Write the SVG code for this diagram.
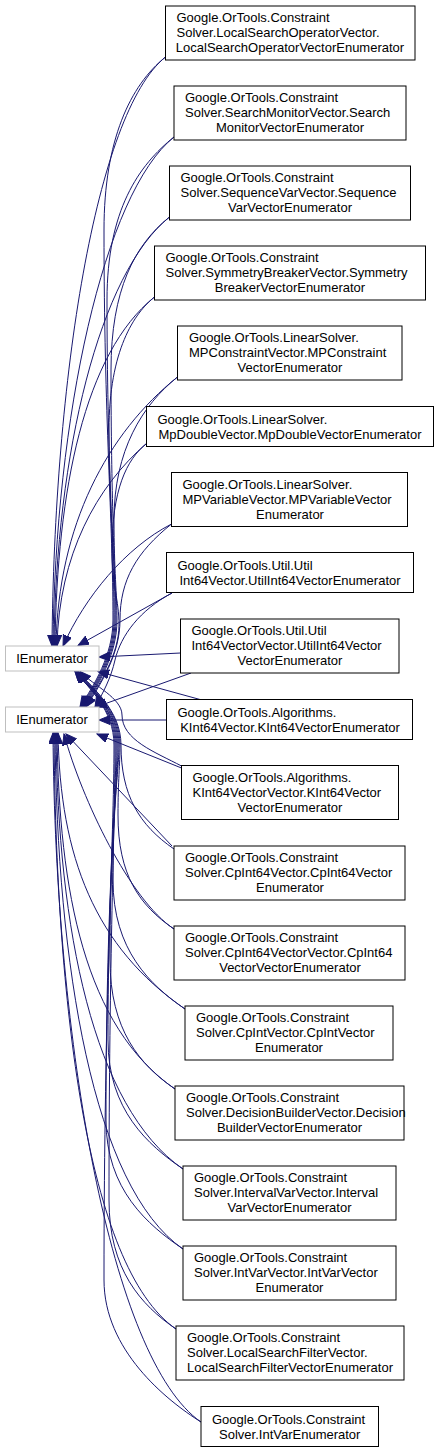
<svg xmlns="http://www.w3.org/2000/svg" width="439" height="1453" viewBox="0 0 439 1453">
<style>
.n rect{fill:#fff;stroke:#000;stroke-width:1}
.b rect{fill:#fff;stroke:#bfbfbf;stroke-width:1}
text{font-family:"Liberation Sans",Arial,Helvetica,sans-serif;font-size:13px;fill:#000}
.m{text-anchor:middle}
#edges path{fill:none;stroke:#191970;stroke-width:1;marker-end:url(#ah)}
</style>
<defs>
<marker id="ah" markerUnits="userSpaceOnUse" markerWidth="12" markerHeight="10" refX="11" refY="4.5" orient="auto"><path d="M0,0 L11,4.5 L0,9 z" fill="#191970" stroke="#191970"/></marker>
</defs>
<rect width="439" height="1453" fill="#fff"/>
<g id="edges">
<path d="M165.5,57 C95.5,113 54,381 52,646"/>
<path d="M174,137 C104,193 55,417 53,646"/>
<path d="M169.5,217 C99.5,273 56,453 54,646"/>
<path d="M154.5,297 C84.5,353 57,489 55,646"/>
<path d="M177.5,377 C107.5,433 58,525 56,646"/>
<path d="M146.5,443.5 C96.5,486.5 59,555 57,646"/>
<path d="M171.5,524 C125,548 85,597 63,646"/>
<path d="M172,593 L78,645.5"/>
<path d="M165.5,57 C130.5,85 104,140 104,230 C104,420 113,520 113,620 C113,655 94,685 80,707"/>
<path d="M174,137 C139,165 107,210 107,300 C107,460 114,540 114,620 C114,655 95,685 81,707"/>
<path d="M169.5,217 C134.5,245 111,290 111,370 C111,500 115,560 115,620 C115,655 96,685 82,707"/>
<path d="M154.5,297 C134.5,313 109,350 109,430 C109,520 116,570 116,620 C116,655 97,685 83,707"/>
<path d="M177.5,377 C142.5,405 114,450 114,520 C114,570 117,595 117,620 C117,655 98,685 84,707"/>
<path d="M146.5,443.5 C126.5,459.5 112,490 112,550 C112,585 119,600 119,625 C119,655 99,685 85,707"/>
<path d="M171.5,524 C136.5,552 120,580 120,620 C120,655 100,685 86,707"/>
<path d="M172,593 C140,610 121,635 115,660 C111,678 103,693 95,707"/>
<path d="M191,673 L96,707"/>
<path d="M180.5,653 L99,657"/>
<path d="M200,699.5 L98,671.5"/>
<path d="M166.5,720 L99,720"/>
<path d="M181.5,768 L97,734"/>
<path d="M181.5,766 C155,752 122,740 122,715 C122,698 94,686 80,671.5"/>
<path d="M174,849 C139,825 121,795 121,745 C121,710 92,688 78,671.5"/>
<path d="M174,929 C139,905 118,875 118,815 C118,780 120,765 120,745 C120,710 92,688 78,671.5"/>
<path d="M185,1009 C150,985 113,950 113,880 C113,800 119,770 119,745 C119,710 91,688 77,671.5"/>
<path d="M175,1089 C140,1065 110,1030 110,960 C110,830 118,785 118,745 C118,710 91,688 77,671.5"/>
<path d="M183,1169 C148,1145 108,1110 108,1040 C108,870 117,800 117,745 C117,710 90,688 76,671.5"/>
<path d="M183,1249 C148,1225 106,1190 106,1120 C106,900 116,810 116,745 C116,710 90,688 76,671.5"/>
<path d="M176,1329 C141,1305 109,1270 109,1200 C109,950 115,830 115,745 C115,710 89,688 75,671.5"/>
<path d="M201,1422 C166,1400 104,1350 104,1280 C104,1000 114,840 114,745 C114,710 89,688 75,671.5"/>
<path d="M172,846 L66,734"/>
<path d="M174,929 C130,900 82,800 64,734"/>
<path d="M185,1009 C95,947 60,857 58,733"/>
<path d="M175,1089 C85,1027 59,893 57,733"/>
<path d="M183,1169 C93,1107 58,929 56,733"/>
<path d="M183,1249 C93,1187 57,965 55,733"/>
<path d="M176,1329 C86,1267 56,1001 54,733"/>
<path d="M201,1422 C111,1360 55,1043 53,733"/>
</g>
<g id="ienum1" class="b"><rect x="5.5" y="646" width="93.5" height="25"/><text x="52" y="662.5" class="m">IEnumerator</text></g>
<g id="ienum2" class="b"><rect x="5.5" y="707" width="93.5" height="25"/><text x="52" y="724" class="m">IEnumerator</text></g>
<g id="n1" class="n"><rect x="165.5" y="6" width="249.5" height="54"/><text x="176.5" y="22">Google.OrTools.Constraint</text><text x="176.5" y="37">Solver.LocalSearchOperatorVector.</text><text x="290" y="52" class="m">LocalSearchOperatorVectorEnumerator</text></g>
<g id="n2" class="n"><rect x="174" y="86" width="232" height="54"/><text x="185" y="102">Google.OrTools.Constraint</text><text x="185" y="117">Solver.SearchMonitorVector.Search</text><text x="290" y="132" class="m">MonitorVectorEnumerator</text></g>
<g id="n3" class="n"><rect x="169.5" y="166" width="241" height="54"/><text x="180.5" y="182">Google.OrTools.Constraint</text><text x="180.5" y="197">Solver.SequenceVarVector.Sequence</text><text x="290" y="212" class="m">VarVectorEnumerator</text></g>
<g id="n4" class="n"><rect x="154.5" y="246" width="271" height="54"/><text x="165.5" y="262">Google.OrTools.Constraint</text><text x="165.5" y="277">Solver.SymmetryBreakerVector.Symmetry</text><text x="290" y="292" class="m">BreakerVectorEnumerator</text></g>
<g id="n5" class="n"><rect x="177.5" y="326" width="224.5" height="54"/><text x="189" y="342">Google.OrTools.LinearSolver.</text><text x="189" y="357">MPConstraintVector.MPConstraint</text><text x="290" y="372" class="m">VectorEnumerator</text></g>
<g id="n6" class="n"><rect x="146.5" y="406.5" width="287" height="40"/><text x="157.5" y="423.5">Google.OrTools.LinearSolver.</text><text x="290" y="438.5" class="m">MpDoubleVector.MpDoubleVectorEnumerator</text></g>
<g id="n7" class="n"><rect x="171.5" y="472.5" width="236" height="54"/><text x="182.5" y="488.5">Google.OrTools.LinearSolver.</text><text x="182.5" y="503.5">MPVariableVector.MPVariableVector</text><text x="290" y="518.5" class="m">Enumerator</text></g>
<g id="n8" class="n"><rect x="166.5" y="552.5" width="247" height="40"/><text x="177.5" y="569.5">Google.OrTools.Util.Util</text><text x="290" y="584.5" class="m">Int64Vector.UtilInt64VectorEnumerator</text></g>
<g id="n9" class="n"><rect x="180.5" y="619" width="218.5" height="54"/><text x="191.5" y="635">Google.OrTools.Util.Util</text><text x="191.5" y="650">Int64VectorVector.UtilInt64Vector</text><text x="290" y="665" class="m">VectorEnumerator</text></g>
<g id="n10" class="n"><rect x="166.5" y="699.5" width="246" height="40"/><text x="177.5" y="716.5">Google.OrTools.Algorithms.</text><text x="290" y="731.5" class="m">KInt64Vector.KInt64VectorEnumerator</text></g>
<g id="n11" class="n"><rect x="181.5" y="765.5" width="217" height="54"/><text x="192.5" y="781.5">Google.OrTools.Algorithms.</text><text x="192.5" y="796.5">KInt64VectorVector.KInt64Vector</text><text x="290" y="811.5" class="m">VectorEnumerator</text></g>
<g id="n12" class="n"><rect x="174" y="846" width="231" height="54"/><text x="185" y="862">Google.OrTools.Constraint</text><text x="185" y="877">Solver.CpInt64Vector.CpInt64Vector</text><text x="290" y="892" class="m">Enumerator</text></g>
<g id="n13" class="n"><rect x="174" y="926" width="231" height="54"/><text x="185" y="942">Google.OrTools.Constraint</text><text x="185" y="957">Solver.CpInt64VectorVector.CpInt64</text><text x="290" y="972" class="m">VectorVectorEnumerator</text></g>
<g id="n14" class="n"><rect x="185" y="1006" width="208" height="54"/><text x="196" y="1022">Google.OrTools.Constraint</text><text x="196" y="1037">Solver.CpIntVector.CpIntVector</text><text x="289" y="1052" class="m">Enumerator</text></g>
<g id="n15" class="n"><rect x="175" y="1086" width="229" height="54"/><text x="186" y="1102">Google.OrTools.Constraint</text><text x="186" y="1117">Solver.DecisionBuilderVector.Decision</text><text x="289.5" y="1132" class="m">BuilderVectorEnumerator</text></g>
<g id="n16" class="n"><rect x="183" y="1166" width="213" height="54"/><text x="194" y="1182">Google.OrTools.Constraint</text><text x="194" y="1197">Solver.IntervalVarVector.Interval</text><text x="289.5" y="1212" class="m">VarVectorEnumerator</text></g>
<g id="n17" class="n"><rect x="183" y="1246" width="213" height="54"/><text x="194" y="1262">Google.OrTools.Constraint</text><text x="194" y="1277">Solver.IntVarVector.IntVarVector</text><text x="289.5" y="1292" class="m">Enumerator</text></g>
<g id="n18" class="n"><rect x="176" y="1326" width="228" height="54"/><text x="187" y="1342">Google.OrTools.Constraint</text><text x="187" y="1357">Solver.LocalSearchFilterVector.</text><text x="290" y="1372" class="m">LocalSearchFilterVectorEnumerator</text></g>
<g id="n19" class="n"><rect x="201" y="1406.5" width="177.5" height="40"/><text x="212" y="1423.5">Google.OrTools.Constraint</text><text x="289.75" y="1438.5" class="m">Solver.IntVarEnumerator</text></g>
</svg>
